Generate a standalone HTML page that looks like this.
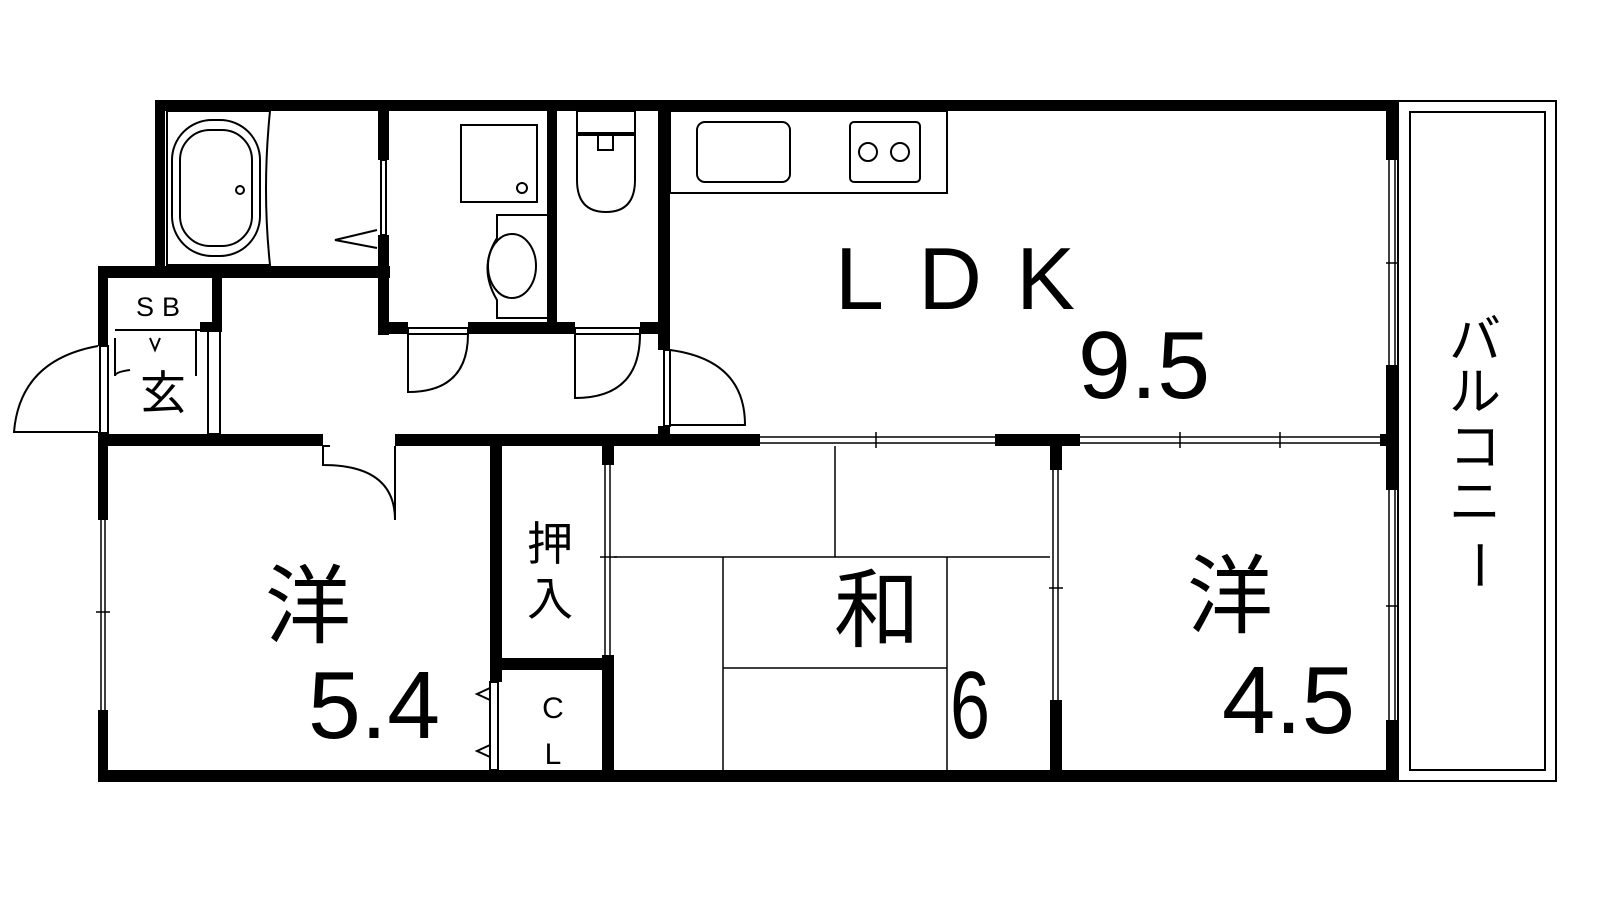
<!DOCTYPE html>
<html><head><meta charset="utf-8"><style>
html,body{margin:0;padding:0;background:#fff;width:1600px;height:900px;overflow:hidden}
svg{display:block}
text{font-family:"Liberation Sans","Noto Sans CJK JP",sans-serif;fill:#000}
</style></head><body>
<svg width="1600" height="900" viewBox="0 0 1600 900" xmlns="http://www.w3.org/2000/svg">
<g fill="none" stroke="#000" stroke-width="2">
<rect x="1398" y="101" width="158" height="680"/>
<rect x="1410" y="112" width="135" height="658"/>
<rect x="670" y="111" width="277" height="82"/>
<rect x="697" y="122" width="93" height="60" rx="8"/>
<rect x="850" y="122" width="70" height="60" rx="4"/>
<circle cx="868" cy="152" r="9"/><circle cx="900" cy="152" r="9"/>
<path d="M167 111 H270 Q262 190 270 265 H167 Z"/>
<rect x="172" y="120" width="88" height="136" rx="40"/>
<rect x="180" y="130" width="72" height="116" rx="30"/>
<circle cx="240" cy="190" r="4"/>
<rect x="461" y="125" width="76" height="77"/>
<circle cx="522" cy="188" r="5"/>
<path d="M547 215 H497 V238 Q478 268 497 300 V318 H547"/>
<ellipse cx="512" cy="266" rx="24" ry="32"/>
<rect x="577" y="111" width="58" height="22"/>
<path d="M577 135 H635 V180 Q635 212 606 212 Q577 212 577 180 Z"/>
<path d="M598 135 V150 H613 V135"/>
<path d="M377 230 L335 240 L377 248"/>
<rect x="381" y="160" width="5" height="75"/>
<path d="M408 334 V392 Q468 392 468 334"/>
<rect x="408" y="328" width="60" height="6"/>
<path d="M575 334 V398 Q640 398 640 334"/>
<rect x="575" y="328" width="65" height="6"/>
<path d="M670 350 Q745 360 745 425 H670"/>
<rect x="664" y="350" width="6" height="76"/>
<path d="M98 346 Q20 360 14 432 H98"/>
<rect x="100" y="346" width="8" height="87"/>
<path d="M323 446 V465 Q395 465 395 520"/>
<path d="M395 446 V520 M323 446 H330"/>
<path d="M115 330 H208 M115 338 V376 Q115 372 130 370 M196 330 V376 M150 338 L155 350 L160 338"/>
<rect x="208" y="330" width="12" height="104"/>
<path d="M490 688 L477 694 L490 700 M490 745 L477 751 L490 757"/>
<rect x="490" y="682" width="8" height="88"/>
<path d="M835 446 V557 M614 557 H1050 M723 557 V770 M947 557 V770 M723 668 H947" stroke-width="1.5"/>
<path d="M760 437 H995 M760 443 H995 M1080 437 H1380 M1080 443 H1380" stroke-width="1.5"/>
<path d="M876 432 V448 M1180 432 V448 M1280 432 V448 M1386 606 H1398 M1386 263 H1398" stroke-width="1.5"/>
<path d="M1389 160 V365 M1395 160 V365 M1389 490 V720 M1395 490 V720" stroke-width="1.5"/>
<path d="M101 520 V710 M105 520 V710 M96 612 H110" stroke-width="1.5"/>
<path d="M605 465 V655 M610 465 V655 M600 557 H617" stroke-width="1.5"/>
<path d="M1053 470 V700 M1058 470 V700 M1049 588 H1063" stroke-width="1.5"/>
</g>
<g fill="#000">
<rect x="155" y="100" width="1243" height="11"/>
<rect x="155" y="100" width="10" height="175"/>
<rect x="98" y="266" width="292" height="12"/>
<rect x="378" y="100" width="11" height="60"/>
<rect x="378" y="235" width="11" height="100"/>
<rect x="547" y="100" width="10" height="225"/>
<rect x="658" y="100" width="12" height="250"/>
<rect x="658" y="426" width="12" height="20"/>
<rect x="378" y="322" width="30" height="12"/>
<rect x="468" y="322" width="107" height="12"/>
<rect x="640" y="322" width="30" height="12"/>
<rect x="98" y="266" width="10" height="80"/>
<rect x="98" y="432" width="10" height="88"/>
<rect x="98" y="710" width="10" height="72"/>
<rect x="200" y="322" width="22" height="10"/>
<rect x="212" y="270" width="10" height="60"/>
<rect x="98" y="434" width="225" height="12"/>
<rect x="395" y="434" width="365" height="12"/>
<rect x="995" y="434" width="85" height="12"/>
<rect x="1380" y="434" width="10" height="12"/>
<rect x="1386" y="100" width="12" height="60"/>
<rect x="1386" y="365" width="12" height="125"/>
<rect x="1386" y="720" width="12" height="62"/>
<rect x="98" y="770" width="1300" height="12"/>
<rect x="490" y="446" width="12" height="236"/>
<rect x="602" y="446" width="12" height="19"/>
<rect x="602" y="655" width="12" height="125"/>
<rect x="490" y="658" width="124" height="12"/>
<rect x="1050" y="446" width="12" height="24"/>
<rect x="1050" y="700" width="12" height="80"/>
</g>
<text x="835" y="309" font-size="88" textLength="240" lengthAdjust="spacing">LDK</text>
<text x="1078" y="398" font-size="96" textLength="132" lengthAdjust="spacingAndGlyphs">9.5</text>
<text x="308" y="636" font-size="86" text-anchor="middle">洋</text>
<text x="308" y="738" font-size="96" textLength="132" lengthAdjust="spacingAndGlyphs">5.4</text>
<text x="877" y="640" font-size="86" text-anchor="middle">和</text>
<text x="950" y="738" font-size="96" textLength="40" lengthAdjust="spacingAndGlyphs">6</text>
<text x="1230" y="626" font-size="86" text-anchor="middle">洋</text>
<text x="1222" y="733" font-size="96" textLength="133" lengthAdjust="spacingAndGlyphs">4.5</text>
<text x="550" y="560" font-size="46" text-anchor="middle">押</text>
<text x="550" y="615" font-size="46" text-anchor="middle">入</text>
<text x="553" y="718" font-size="30" text-anchor="middle">C</text>
<text x="553" y="764" font-size="30" text-anchor="middle">L</text>
<text x="162" y="316" font-size="27" text-anchor="middle" letter-spacing="8">SB</text>
<text x="163" y="409" font-size="46" text-anchor="middle">玄</text>
<g font-size="52" text-anchor="middle">
<text x="1475" y="358">バ</text><text x="1475" y="410">ル</text><text x="1475" y="465">コ</text><text x="1475" y="520">ニ</text><text x="1475" y="580" transform="rotate(90 1475 565)">ー</text>
</g>
</svg>
</body></html>
